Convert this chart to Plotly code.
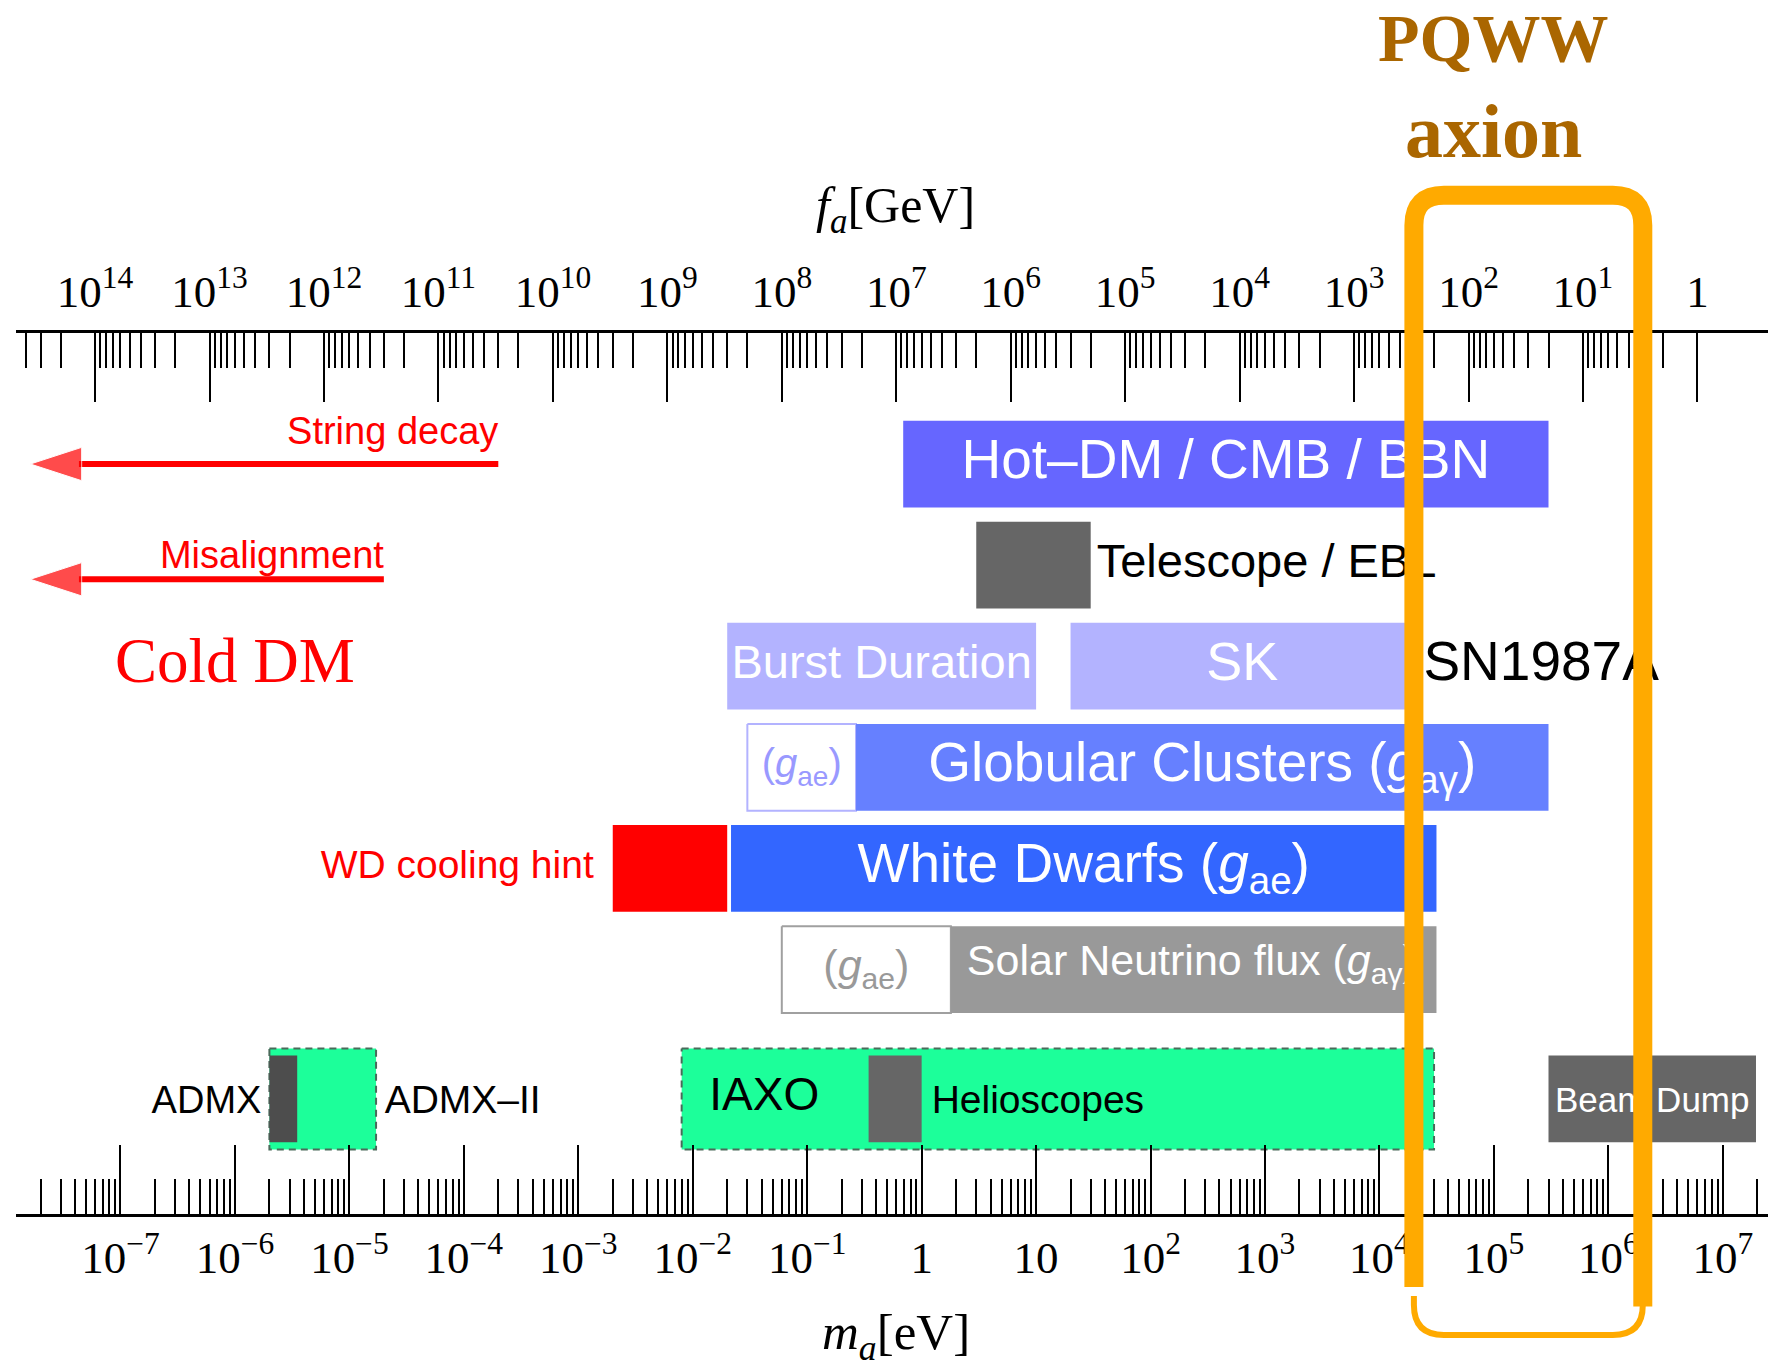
import numpy as np
import plotly.graph_objects as go

# ------------------------------------------------------------------ data
FA_TO_MA = 6.0e6  # m_a [eV] = FA_TO_MA / f_a [GeV]

ma_tickvals = [1e-7, 1e-6, 1e-5, 1e-4, 1e-3, 1e-2, 1e-1, 1, 10, 1e2, 1e3, 1e4, 1e5, 1e6, 1e7]
ma_ticktext = ["10<sup>−7</sup>", "10<sup>−6</sup>", "10<sup>−5</sup>", "10<sup>−4</sup>",
               "10<sup>−3</sup>", "10<sup>−2</sup>", "10<sup>−1</sup>", "1", "10",
               "10<sup>2</sup>", "10<sup>3</sup>", "10<sup>4</sup>", "10<sup>5</sup>",
               "10<sup>6</sup>", "10<sup>7</sup>"]
fa_tickvals = [1e14, 1e13, 1e12, 1e11, 1e10, 1e9, 1e8, 1e7, 1e6, 1e5, 1e4, 1e3, 1e2, 1e1, 1]
fa_ticktext = ["10<sup>14</sup>", "10<sup>13</sup>", "10<sup>12</sup>", "10<sup>11</sup>",
               "10<sup>10</sup>", "10<sup>9</sup>", "10<sup>8</sup>", "10<sup>7</sup>",
               "10<sup>6</sup>", "10<sup>5</sup>", "10<sup>4</sup>", "10<sup>3</sup>",
               "10<sup>2</sup>", "10<sup>1</sup>", "1"]

# excluded / sensitivity regions in m_a [eV]
bar_names = ["Hot-DM/CMB/BBN", "Telescope/EBL", "Burst Duration", "SK",
             "GC (gae)", "Globular Clusters", "WD cooling hint", "White Dwarfs",
             "Solar (gae)", "Solar Neutrino flux", "ADMX-II", "ADMX",
             "IAXO", "Helioscopes", "Beam Dump"]
bar_m_lo = [0.69, 3.0, 0.02, 20.0, 0.03, 0.267, 2.0e-3, 0.0216, 0.06, 1.8,
            2.0e-6, 2.0e-6, 8.0e-3, 0.344, 3.0e5]
bar_m_hi = [3.0e5, 30.0, 10.0, 2.0e4, 0.267, 3.0e5, 0.02, 3.15e4, 1.8, 3.15e4,
            1.71e-5, 3.5e-6, 3.0e4, 1.0, 1.95e7]
bar_row = [0, 1, 2, 2, 3, 3, 4, 4, 5, 5, 6.28, 6.28, 6.28, 6.28, 6.28]

# cosmological production arrows (towards small masses)
arrow_names = ["String decay", "Misalignment"]
arrow_m_from = [2.0e-4, 2.0e-5]
arrow_m_to = [1.63e-8, 1.63e-8]
arrow_row = [0.0, 1.14]

# PQWW axion window in f_a [GeV]
pqww_fa = [300.0, 3.0]

# ------------------------------------------------------------------ style
SANS = "Liberation Sans, Arial, Helvetica, sans-serif"
SERIF = "Liberation Serif, Times New Roman, serif"
GREEN = "#1CFF9A"
bar_fill = ["#6666FF", "#666666", "#B3B3FF", "#B3B3FF", "#FFFFFF", "#6680FF",
            "#FF0000", "#3366FF", "#FFFFFF", "#999999", GREEN, "#4D4D4D",
            GREEN, "#666666", "#666666"]
bar_line = [None, None, None, None, "#B3B3FF", None, None, None, "#A0A0A0", None,
            "#4A6A5A", None, "#4A6A5A", None, None]
bar_dash = [None] * 10 + ["7px,5px", None, "7px,5px", None, None]
bar_half = [0.429] * 10 + [0.5, 0.429, 0.5, 0.429, 0.429]

W, H = 1768, 1369
ML, MR, MT, MB = 16, 0, 333, 155
X_LOG = [-7.913, 7.395]
Y_RANGE = [7.418, -1.296]
LOGC = np.log10(FA_TO_MA)

fig = go.Figure()

# bars
for i in range(len(bar_names)):
    lo, hi, r, h = bar_m_lo[i], bar_m_hi[i], bar_row[i], bar_half[i]
    lc = bar_line[i]
    fig.add_trace(go.Scatter(
        x=[lo, hi, hi, lo, lo], y=[r - h, r - h, r + h, r + h, r - h],
        mode="lines", fill="toself", fillcolor=bar_fill[i],
        line=dict(color=lc if lc else bar_fill[i], width=2 if lc else 0,
                  dash=bar_dash[i] if bar_dash[i] else "solid"),
        hoverinfo="skip", showlegend=False))

# arrows
for i in range(len(arrow_names)):
    fig.add_trace(go.Scatter(
        x=[arrow_m_from[i], arrow_m_to[i]], y=[arrow_row[i], arrow_row[i]],
        mode="lines+markers",
        line=dict(color="#FF0000", width=6),
        marker=dict(symbol="arrow", size=[0, 54], angleref="previous", color="#FF0000"),
        hoverinfo="skip", showlegend=False))


def gm(a, b):
    return float(np.sqrt(a * b))


def add_label(text, x, y, pos="middle center", size=40, color="black", family=SANS, gap=0):
    if gap > 0:
        mode, msize = "markers+text", (gap - 1) * 1.6
    else:
        mode, msize = "text", 1
    fig.add_trace(go.Scatter(
        x=[x], y=[y], mode=mode, text=[text], textposition=pos,
        textfont=dict(size=size, color=color, family=family),
        marker=dict(size=msize, opacity=0),
        hoverinfo="skip", showlegend=False))


add_label("Hot–DM / CMB / BBN", gm(bar_m_lo[0], bar_m_hi[0]), bar_row[0], size=55, color="white")
add_label("Telescope / EBL", bar_m_hi[1], bar_row[1], "middle right", 47, gap=6)
add_label("Burst Duration", gm(bar_m_lo[2], bar_m_hi[2]), bar_row[2], size=47, color="white")
add_label("SK", gm(bar_m_lo[3], bar_m_hi[3]), bar_row[3], size=54, color="white")
add_label("SN1987A", bar_m_hi[3], bar_row[3], "middle right", 55, gap=9.5)
add_label("(<i>g</i><sub>ae</sub>)", gm(bar_m_lo[4], bar_m_hi[4]), bar_row[4], size=40, color="#9999FF")
add_label("Globular Clusters (<i>g</i><sub>aγ</sub>)", gm(bar_m_lo[5], bar_m_hi[5]), bar_row[5],
          size=55, color="white")
add_label("WD cooling hint", bar_m_lo[6], bar_row[6], "middle left", 39, color="#FF0000", gap=19)
add_label("White Dwarfs (<i>g</i><sub>ae</sub>)", gm(bar_m_lo[7], bar_m_hi[7]), bar_row[7],
          size=55, color="white")
add_label("(<i>g</i><sub>ae</sub>)", gm(bar_m_lo[8], bar_m_hi[8]), bar_row[8], size=43, color="#999999")
add_label("Solar Neutrino flux (<i>g</i><sub>aγ</sub>)", bar_m_lo[9], bar_row[9] - 0.05, "middle right", 43,
          color="white", gap=16)
add_label("ADMX", bar_m_lo[11], bar_row[11] + 0.045, "middle left", 38, gap=8)
add_label("ADMX–II", bar_m_hi[10], bar_row[10] + 0.045, "middle right", 39, gap=8.6)
add_label("IAXO", bar_m_lo[12], bar_row[12], "middle right", 46, gap=27.6)
add_label("Helioscopes", bar_m_hi[13], bar_row[13] + 0.045, "middle right", 39, gap=10)
add_label("Beam Dump", gm(bar_m_lo[14], bar_m_hi[14]), bar_row[14] + 0.045, size=35, color="white")
add_label("String decay", arrow_m_from[0], arrow_row[0] - 0.29, "middle left", 38, color="#FF0000")
add_label("Misalignment", arrow_m_from[1], arrow_row[1] - 0.206, "middle left", 38, color="#FF0000")
add_label("Cold DM", 1e-6, 2.0, size=63, color="#FF0000", family=SERIF)

# invisible trace so the f_a axis is drawn
fig.add_trace(go.Scatter(x=pqww_fa, y=[None, None], xaxis="x2", yaxis="y", mode="lines",
                         hoverinfo="skip", showlegend=False))

# ------------------------------------------------------------------ axes
ma_minor = [k * 10.0 ** n for n in range(-8, 8) for k in range(2, 10)]
fa_minor = [k * 10.0 ** n for n in range(0, 15) for k in range(2, 10)]

common = dict(type="log", autorange=False, showgrid=False, zeroline=False,
              showline=True, linecolor="black", linewidth=3,
              ticks="inside", ticklen=69, tickwidth=2, tickcolor="black",
              tickmode="array",
              tickfont=dict(family=SERIF, size=45, color="black"))

fig.update_layout(
    width=W, height=H, margin=dict(l=ML, r=MR, t=MT, b=MB, pad=0),
    paper_bgcolor="white", plot_bgcolor="white", showlegend=False,
    xaxis=dict(range=X_LOG, tickvals=ma_tickvals, ticktext=ma_ticktext,
               ticklabelstandoff=2,
               minor=dict(ticks="inside", ticklen=35, tickwidth=2, tickcolor="black",
                          tickmode="array", tickvals=ma_minor, showgrid=False),
               **common),
    xaxis2=dict(overlaying="x", side="top", anchor="y",
                range=[LOGC - X_LOG[0], LOGC - X_LOG[1]],
                tickvals=fa_tickvals, ticktext=fa_ticktext,
                ticklabelstandoff=5,
                minor=dict(ticks="inside", ticklen=35, tickwidth=2, tickcolor="black",
                           tickmode="array", tickvals=fa_minor, showgrid=False),
                **common),
    yaxis=dict(range=Y_RANGE, autorange=False, visible=False, showgrid=False, zeroline=False),
)

# axis titles
fig.add_annotation(text="<i>f</i><sub><i>a</i></sub>[GeV]", xref="paper", yref="paper",
                   x=0.502, y=1.141, xanchor="center", yanchor="middle", showarrow=False,
                   font=dict(family=SERIF, size=50, color="black"))
fig.add_annotation(text="<i>m</i><sub><i>a</i></sub>[eV]", xref="paper", yref="paper",
                   x=0.502, y=-0.139, xanchor="center", yanchor="middle", showarrow=False,
                   font=dict(family=SERIF, size=51, color="black"))

# PQWW axion window (orange frame) on the f_a axis
plot_w = W - ML - MR
plot_h = H - MT - MB
dec_px = plot_w / (X_LOG[1] - X_LOG[0])
r_px = 30
fac = 10 ** (r_px / dec_px)
fl, fr = pqww_fa
ry = r_px / plot_h
y_top, y_lb, y_rb, y_bot = 1.1564, -0.083, -0.105, -0.1373
thick = (f"M{fl:.5f},{y_lb:.5f} L{fl:.5f},{y_top - ry:.5f} "
         f"Q{fl:.5f},{y_top:.5f} {fl / fac:.5f},{y_top:.5f} "
         f"L{fr * fac:.5f},{y_top:.5f} Q{fr:.5f},{y_top:.5f} {fr:.5f},{y_top - ry:.5f} "
         f"L{fr:.5f},{y_rb:.5f}")
thin = (f"M{fr:.5f},{y_rb + 0.01:.5f} L{fr:.5f},{y_bot + ry:.5f} "
        f"Q{fr:.5f},{y_bot:.5f} {fr * fac:.5f},{y_bot:.5f} "
        f"L{fl / fac:.5f},{y_bot:.5f} Q{fl:.5f},{y_bot:.5f} {fl:.5f},{y_bot + ry:.5f} "
        f"L{fl:.5f},{y_lb - 0.01:.5f}")
fig.add_shape(type="path", path=thick, xref="x2", yref="paper", layer="above",
              line=dict(color="#FFAA00", width=19))
fig.add_shape(type="path", path=thin, xref="x2", yref="paper", layer="above",
              line=dict(color="#FFAA00", width=6))

pq_center = np.log10(gm(fl, fr))
fig.add_annotation(text="<b>PQWW</b>", xref="x2", yref="paper", x=pq_center, xshift=-35,
                   y=1.3345, xanchor="center", yanchor="middle", showarrow=False,
                   font=dict(family=SERIF, size=68, color="#AA6600"))
fig.add_annotation(text="<b>axion</b>", xref="x2", yref="paper", x=pq_center, xshift=-35,
                   y=1.2293, xanchor="center", yanchor="middle", showarrow=False,
                   font=dict(family=SERIF, size=76, color="#AA6600"))

fig.write_html("out.html", config={"displayModeBar": False},
               post_script="document.body.style.margin='0';document.body.style.overflow='hidden';")
